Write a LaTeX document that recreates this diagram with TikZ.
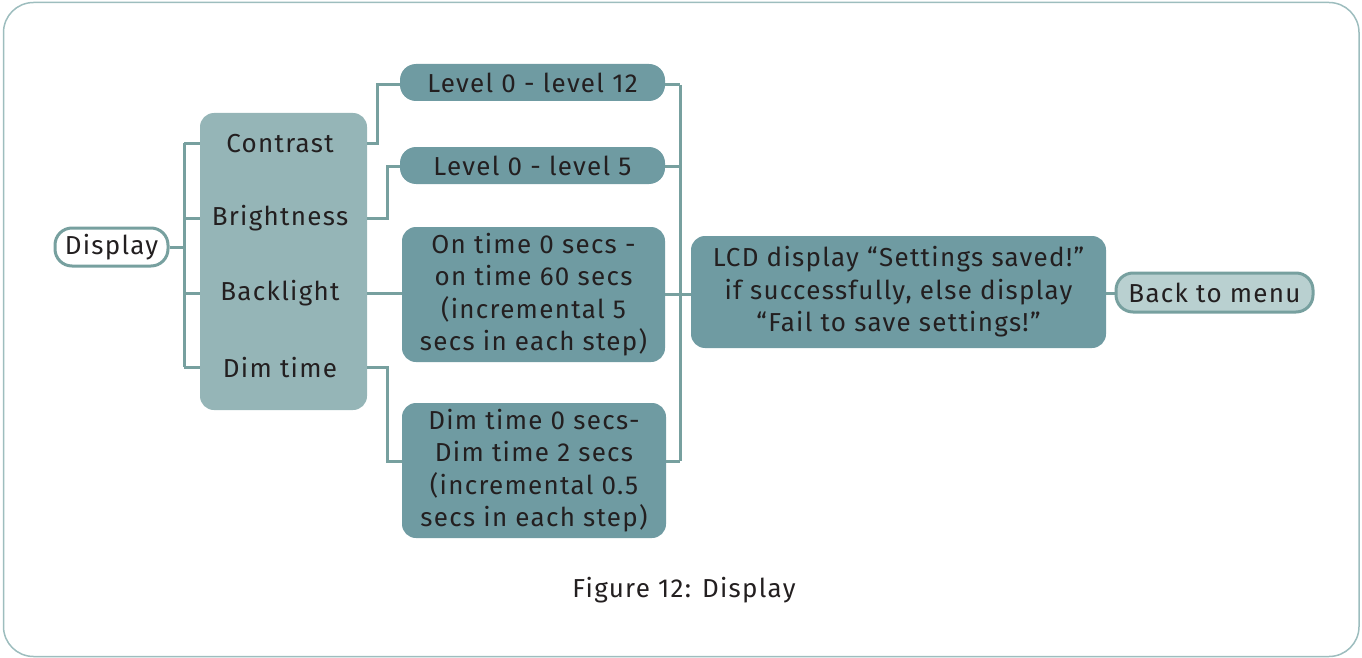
\documentclass[tikz,border=0pt]{standalone}
\usepackage{fontspec}
\setmainfont{Fira Sans}[LetterSpace=5]
\definecolor{frame}{HTML}{9DBDBE}
\definecolor{line}{HTML}{77A09F}
\definecolor{mid}{HTML}{95B5B7}
\definecolor{dark}{HTML}{6F9BA2}
\definecolor{light}{HTML}{B9D0D0}
\definecolor{ink}{HTML}{231F20}
\begin{document}
\begin{tikzpicture}[x=1pt,y=-1pt,
  txt/.style={font=\fontsize{26}{32.5}\selectfont, text=ink, align=center, inner sep=0pt},
  box/.style={txt, rounded corners=14pt, minimum width=#1},
  conn/.style={draw=line, line width=3pt},
]
\useasboundingbox (0,0) rectangle (1362,658);
\draw[frame, line width=1.5pt, rounded corners=30pt] (3.5,2.5) rectangle (1359,656.5);

% nodes
\node[box=113pt, minimum height=38pt, fill=white, draw=line, line width=3pt, rounded corners=17pt] (disp) at (111.5,247) {Display};
\node[box=167pt, minimum height=297pt, fill=mid] (grp) at (283.5,261.5) {};
\node[txt] (con) at (280,143.5) {Contrast};
\node[txt] (bri) at (280,218.5) {Brightness};
\node[txt] (bac) at (280,293.5) {Backlight};
\node[txt] (dim) at (280,367.5) {Dim time};

\node[box=265pt, minimum height=37pt, fill=dark, rounded corners=16pt] (l12) at (532.5,82.5) {Level 0 - level 12};
\node[box=265pt, minimum height=37pt, fill=dark, rounded corners=16pt] (l5) at (532.5,165.5) {Level 0 - level 5};
\node[box=263pt, minimum height=135pt, fill=dark] (on) at (533.5,294.5) {On time 0 secs -\\on time 60 secs\\(incremental 5\\secs in each step)};
\node[box=264pt, minimum height=135pt, fill=dark] (dt) at (534,470.5) {Dim time 0 secs-\\Dim time 2 secs\\(incremental 0.5\\secs in each step)};

\node[box=415pt, minimum height=112pt, fill=dark] (lcd) at (898.5,292) {LCD display “Settings saved!”\\if successfully, else display\\“Fail to save settings!”};
\node[box=197pt, minimum height=39pt, fill=light, draw=line, line width=3pt, rounded corners=17pt] (back) at (1214.5,292.5) {Back to menu};

\node[txt] (cap) at (684,590) {Figure 12: Display};

% connectors
\coordinate (j1) at (184,247);
\draw[conn] (disp.east) -- (j1);
\draw[conn] (184,143) -- (184,367);
\foreach \n in {con,bri,bac,dim} {
  \draw[conn] (184,0 |- \n) -- (grp.west |- \n);
}
\draw[conn] (grp.east |- con) -- (377,143.5) -- (377,85) -- (l12.west |- 0,85);
\draw[conn] (grp.east |- bri) -- (387,218.5) -- (387,166) -- (l5.west |- 0,166);
\draw[conn] (grp.east |- bac) -- (on.west |- bac);
\draw[conn] (grp.east |- dim) -- (387,367.5) -- (387,461) -- (dt.west |- 0,461);

\draw[conn] (l12.east |- 0,85) -- (680,85);
\draw[conn] (l5.east |- 0,166) -- (680,166);
\draw[conn] (on.east |- 0,294) -- (680,294);
\draw[conn] (dt.east |- 0,461) -- (680,461);
\draw[conn] (680,85) -- (680,461);
\draw[conn] (680,294) -- (lcd.west |- 0,294);
\draw[conn] (lcd.east |- 0,293) -- (back.west |- 0,293);
\end{tikzpicture}
\end{document}
